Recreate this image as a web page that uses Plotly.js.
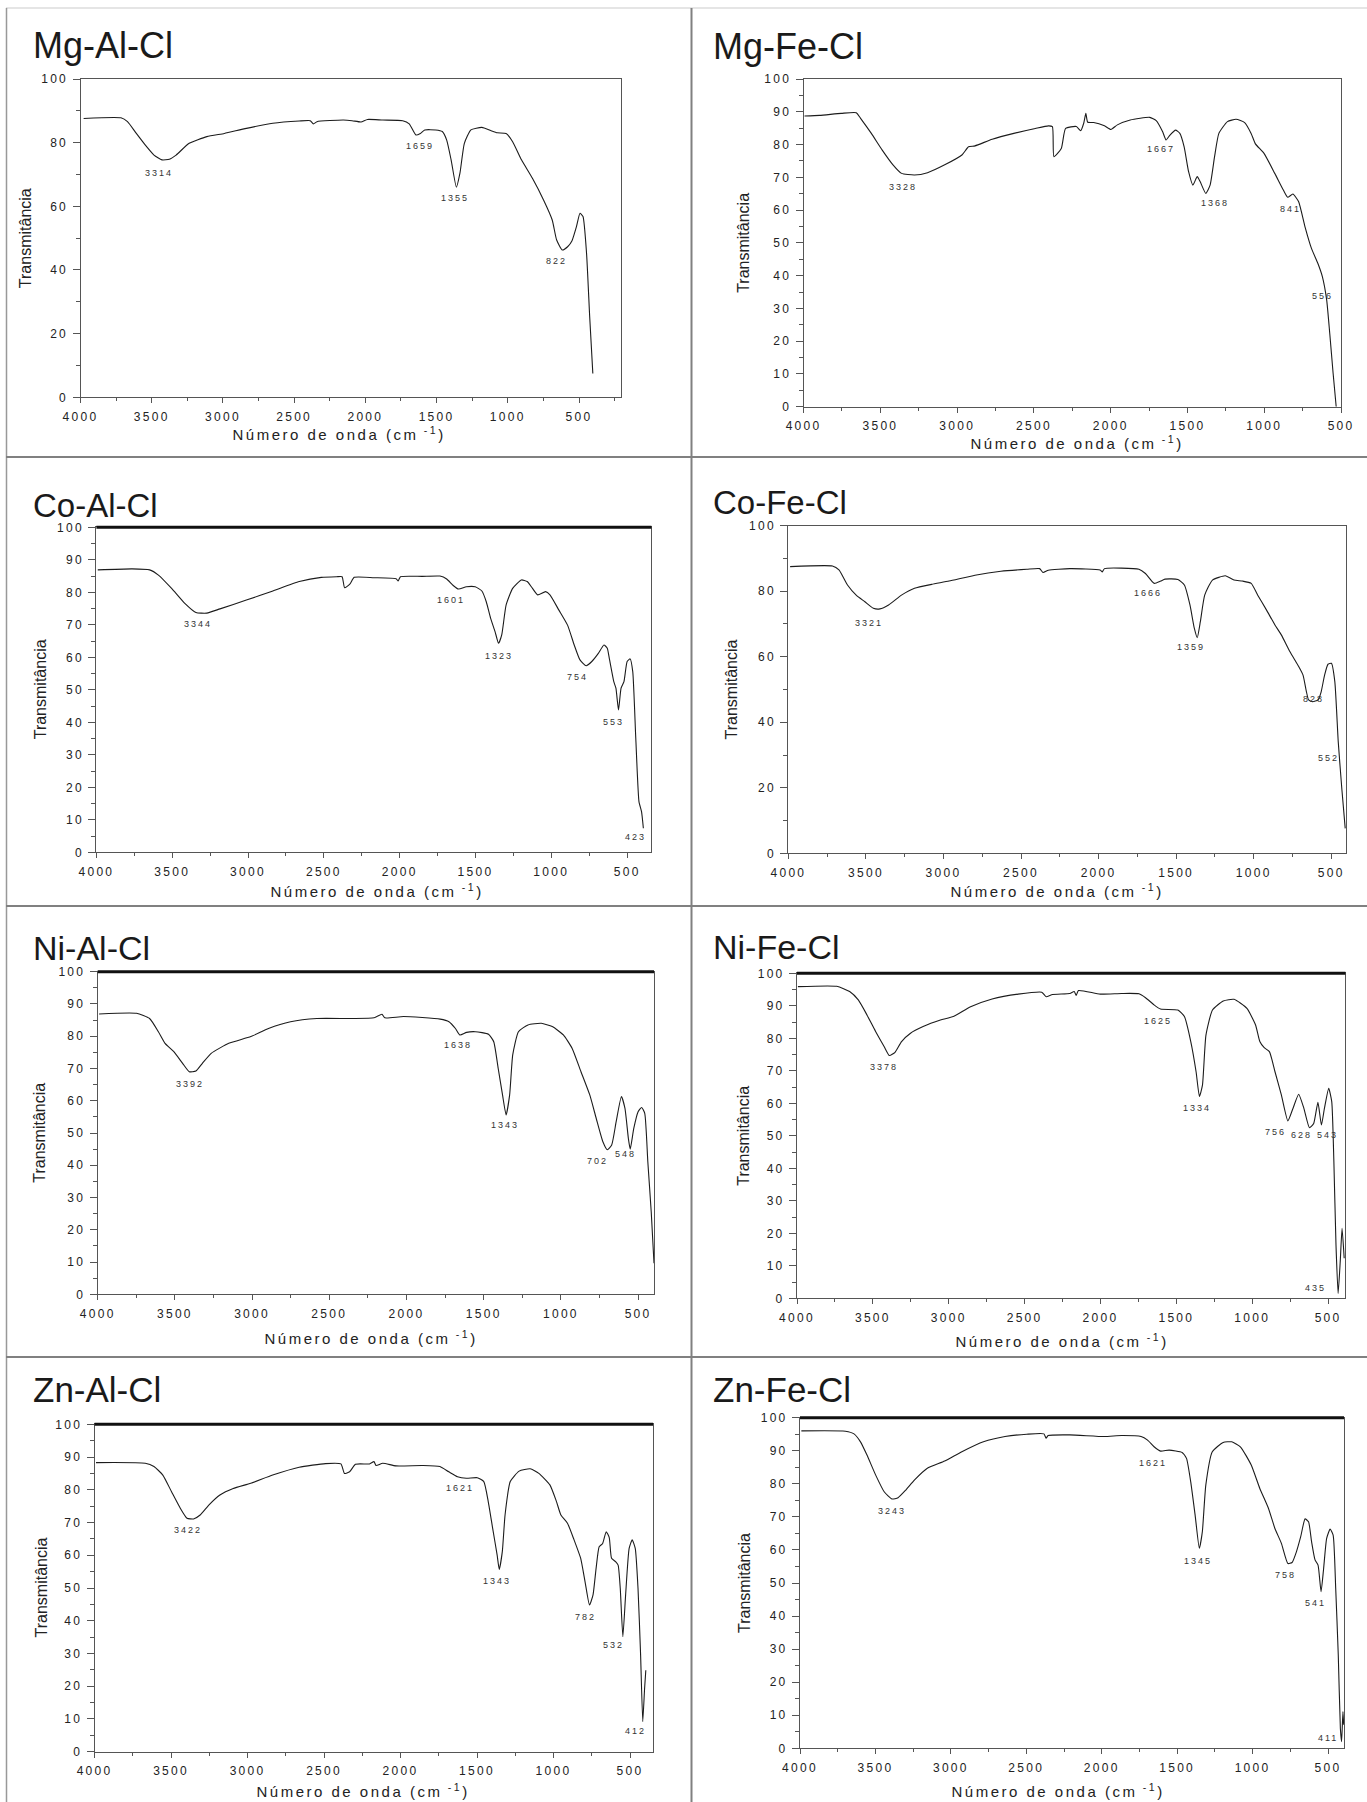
<!DOCTYPE html>
<html><head><meta charset="utf-8">
<script src="https://cdn.plot.ly/plotly-3.0.1.min.js"></script>
<style>
html,body{margin:0;padding:0;background:#fff;}
#chart{width:1367px;height:1802px;}
g[class$="tick"] text{letter-spacing:2.3px;}
</style></head><body><div id="chart"></div><script>
// ---------- DATA ----------
const panelTitles = ["Mg-Al-Cl","Mg-Fe-Cl","Co-Al-Cl","Co-Fe-Cl","Ni-Al-Cl","Ni-Fe-Cl","Zn-Al-Cl","Zn-Fe-Cl"];
const xTitle = "Número de onda (cm<sup> -1</sup>)";
const yTitle = "Transmitância";

const mgAlWn = [3978,3716,3670,3608,3546,3484,3428,3376,3329,3237,3113,2990,2835,2650,2464,2387,2365,2340,2155,2093,2031,1985,1877,1738,1692,1645,1614,1583,1506,1460,1429,1398,1361,1336,1305,1259,1182,1120,1073,1012,966,904,827,749,688,657,617,580,549,518,493,472,447,425,403];
const mgAlT  = [87.6,87.8,86.6,82.9,79.3,76.1,74.6,74.8,76.1,79.8,81.9,82.9,84.5,86.1,86.8,86.9,85.9,86.6,87.1,86.9,86.5,87.3,87.1,86.9,85.9,82.4,82.9,84.0,84.0,83.5,80.8,74.6,66.0,70.4,79.8,84.0,84.8,83.8,83.1,82.9,80.3,74.6,68.8,62.0,55.7,49.4,46.3,47.3,49.2,53.6,57.8,56.8,45.2,25.3,7.5];

const mgFeWn = [3994,3896,3755,3657,3629,3559,3488,3418,3362,3278,3193,3081,2969,2926,2884,2772,2631,2491,2406,2380,2370,2322,2294,2224,2196,2176,2162,2150,2111,2041,1999,1957,1873,1746,1704,1662,1640,1614,1578,1550,1522,1493,1465,1437,1418,1381,1353,1324,1296,1240,1184,1128,1086,1058,1002,932,876,848,814,777,735,693,651,622,594,574,552,532];
const mgFeT  = [88.7,88.9,89.5,89.7,88.0,83.4,78.3,73.8,71.2,70.7,71.4,73.8,76.8,79.3,79.6,81.6,83.4,84.9,85.7,85.5,76.3,78.8,84.9,85.5,84.2,86.5,89.5,86.8,86.7,85.7,84.6,86.0,87.5,88.3,87.3,83.9,81.4,82.9,84.4,83.4,79.3,71.7,67.6,70.2,68.7,65.1,67.6,76.3,83.4,87.0,87.7,86.7,83.4,80.2,77.3,71.2,66.1,63.9,64.9,62.6,54.9,48.3,43.7,39.7,32.6,22.4,10.2,0];

const coAlWn = [3991,3765,3649,3591,3504,3417,3344,3272,3185,3011,2836,2662,2517,2416,2380,2363,2329,2300,2169,2024,2010,1995,1850,1734,1690,1647,1612,1560,1502,1458,1429,1400,1371,1348,1327,1298,1255,1197,1159,1124,1090,1038,1009,951,893,849,811,770,733,690,653,631,617,588,574,557,540,521,500,480,463,443,422,405,393];
const coAlT  = [86.9,87.2,86.9,85.3,81.2,76.6,73.8,73.6,74.9,77.6,80.4,83.3,84.6,84.8,84.8,81.4,82.5,84.6,84.5,84.2,83.5,84.8,84.9,85.0,84.1,82.1,81.0,81.7,81.7,80.4,77.1,72.0,67.9,64.3,66.9,76.1,81.2,83.8,83.3,81.2,79.2,80.2,79.2,74.6,69.9,63.8,59.2,57.4,58.7,61.2,63.8,62.8,59.5,52.5,50.5,43.8,50.5,52.5,58.7,59.5,55.6,35.1,15.6,12.5,7.4];

const coFeWn = [3989,3716,3674,3619,3563,3507,3452,3410,3354,3271,3187,3076,2964,2797,2630,2463,2380,2358,2324,2185,1990,1976,1962,1740,1698,1642,1600,1572,1489,1447,1411,1383,1364,1344,1316,1266,1183,1127,1072,1016,974,918,863,821,766,710,682,660,646,621,585,566,543,521,499,477,455,432,410];
const coFeT  = [87.5,87.7,86.5,81.9,78.8,76.8,74.8,74.6,75.8,78.8,80.9,82.1,83.1,84.9,86.1,86.7,86.9,85.7,86.4,86.9,86.5,85.9,86.9,86.7,85.4,82.4,83.1,83.7,83.6,81.9,75.8,68.7,65.8,70.7,78.8,83.4,84.7,83.4,83.1,82.4,78.8,74.3,69.7,66.6,61.5,57.0,54.4,49.3,46.8,46.3,46.8,49.1,54.4,57.7,58.0,52.4,34.1,19.8,7.6];

const niAlWn = [3991,3749,3664,3607,3564,3507,3450,3407,3364,3322,3265,3151,3008,2894,2751,2580,2352,2210,2159,2140,2019,1782,1725,1683,1654,1611,1554,1469,1435,1406,1378,1355,1332,1312,1275,1213,1127,1056,984,927,870,813,771,728,699,671,642,608,585,563,551,528,500,477,457,437,415,397];
const niAlT  = [86.9,87.1,85.5,81.4,77.8,75.2,71.6,69.0,69.2,71.6,74.7,77.8,79.9,82.4,84.5,85.5,85.5,85.7,86.8,85.7,86.1,85.3,84.5,82.4,80.4,81.2,81.4,80.6,78.3,70.0,61.8,55.6,61.8,74.2,81.4,83.5,84.0,83.0,80.4,76.2,69.0,61.8,54.5,47.3,44.8,46.3,53.5,61.3,57.6,48.3,45.0,51.4,56.6,57.9,56.1,41.1,25.6,9.6];

const niFeWn = [3994,3738,3653,3596,3539,3482,3425,3391,3354,3311,3254,3169,3055,2970,2856,2714,2543,2387,2358,2316,2202,2173,2160,2145,2002,1860,1746,1703,1647,1604,1490,1447,1405,1370,1348,1328,1305,1262,1191,1120,1035,978,950,921,887,850,808,765,731,694,660,623,595,567,544,524,496,476,462,448,434,420,408,394];
const niFeT  = [95.9,96.0,94.4,91.8,87.2,82.1,77.4,74.7,75.7,79.0,81.5,83.6,85.6,86.7,89.7,92.1,93.6,94.2,92.8,93.5,93.8,94.4,93.2,94.7,93.6,93.8,93.7,92.5,90.3,89.0,88.7,86.7,79.0,69.7,62.1,65.6,81.0,88.7,91.5,92.0,89.2,84.1,79.0,77.1,75.9,69.7,62.6,54.6,58.5,62.8,58.5,52.5,53.8,60.3,53.3,58.5,64.6,60.5,42.1,16.4,1.5,11.3,21.5,12.3];

const znAlWn = [3991,3669,3612,3554,3497,3439,3396,3353,3310,3252,3181,3094,2979,2836,2663,2491,2390,2367,2333,2295,2203,2174,2160,2117,2030,1858,1743,1685,1628,1570,1499,1456,1427,1398,1369,1355,1335,1317,1283,1225,1153,1096,1024,981,952,909,866,823,794,765,742,722,702,679,656,636,621,593,578,564,547,529,506,486,466,448,431,417,405,397];
const znAlT  = [88.3,88.1,87.1,84.5,79.4,74.3,71.3,71.1,72.3,75.4,78.4,80.4,82.0,84.5,86.9,88.0,87.9,85.0,85.5,87.8,87.9,88.6,87.4,88.1,87.3,87.4,87.1,85.5,84.0,83.5,83.7,82.5,76.4,68.2,60.1,55.7,61.1,72.3,82.5,85.7,86.4,85.0,81.5,76.4,72.3,69.8,64.7,59.1,51.9,44.8,47.9,56.0,62.6,63.6,67.2,65.4,59.1,58.0,57.0,49.9,35.1,47.9,62.1,64.7,62.1,49.9,29.5,9.2,19.3,24.9];

const znFeWn = [3991,3699,3642,3599,3556,3499,3442,3390,3350,3299,3242,3156,3041,2927,2784,2641,2497,2383,2369,2355,2211,1982,1868,1739,1696,1653,1610,1553,1467,1438,1410,1381,1353,1333,1310,1267,1195,1138,1081,1009,952,895,852,809,766,738,709,681,652,629,609,586,566,546,529,509,486,466,449,432,418,410,401,396];
const znFeT  = [96.0,95.9,95.1,92.7,88.7,82.7,77.6,75.4,75.8,78.1,81.1,84.7,86.9,89.7,92.7,94.3,95.0,95.1,93.8,94.6,94.8,94.3,94.6,94.3,93.2,91.2,89.9,90.2,89.5,87.7,80.6,70.6,60.5,65.5,79.6,89.7,92.5,92.7,91.2,85.7,78.6,72.6,66.5,62.0,55.9,56.2,59.5,64.0,69.4,68.5,62.5,57.0,55.4,47.4,54.4,63.5,66.3,64.5,48.4,28.2,6.0,2.0,11.1,7.1];

// peak labels: text, wavenumber position, transmittance position
const mgAlPk = ["3314","1659","1355","822"];           const mgAlPkX = [3447,1614,1373,656];            const mgAlPkY = [70.4,79.1,62.5,42.9];
const mgFePk = ["3328","1667","1368","841","556"];     const mgFePkX = [3351,1676,1324,827,622];        const mgFePkY = [67.1,78.5,62.1,60.2,33.8];
const coAlPk = ["3344","1601","1323","754","553","423"]; const coAlPkX = [3330,1661,1342,825,593,443]; const coAlPkY = [70.2,77.5,60.5,53.9,40.2,4.8];
const coFePk = ["3321","1666","1359","828","552"];     const coFePkX = [3479,1684,1406,612,521];        const coFePkY = [70.4,79.4,62.9,47.2,29.0];
const niAlPk = ["3392","1638","1343","702","548"];     const niAlPkX = [3401,1668,1360,765,584];        const niAlPkY = [65.3,77.3,52.5,41.4,43.4];
const niFePk = ["3378","1625","1334","756","628","543","435"]; const niFePkX = [3425,1624,1362,844,676,505,580]; const niFePkY = [71.3,85.4,58.5,51.1,50.1,50.1,3.3];
const znAlPk = ["3422","1621","1343","782","532","412"]; const znAlPkX = [3388,1614,1369,794,607,463]; const znAlPkY = [67.7,80.4,52.2,41.1,32.6,6.3];
const znFePk = ["3243","1621","1345","758","541","411"]; const znFePkX = [3390,1659,1361,780,586,498]; const znFePkY = [71.8,86.2,56.8,52.4,43.9,3.0];

const series = [
  [mgAlWn,mgAlT,mgAlPk,mgAlPkX,mgAlPkY],
  [mgFeWn,mgFeT,mgFePk,mgFePkX,mgFePkY],
  [coAlWn,coAlT,coAlPk,coAlPkX,coAlPkY],
  [coFeWn,coFeT,coFePk,coFePkX,coFePkY],
  [niAlWn,niAlT,niAlPk,niAlPkX,niAlPkY],
  [niFeWn,niFeT,niFePk,niFePkX,niFePkY],
  [znAlWn,znAlT,znAlPk,znAlPkX,znAlPkY],
  [znFeWn,znFeT,znFePk,znFePkX,znFePkY]
];

// ---------- LAYOUT GEOMETRY (pixels) ----------
const W = 1367, H = 1802;
const geom = [
 {L:80.5,R:620.6,T:79,B:397.3,   xr:[4000,208], ydt:20, thick:false, tx:30.8,  ty:46,   tf:36, ytx:25,   xtx:339,  xty:433},
 {L:803.6,R:1341.1,T:79,B:406.7, xr:[4000,500], ydt:10, thick:false, tx:710.7, ty:46.5, tf:36, ytx:744,  xtx:1077, xty:443},
 {L:96.4,R:651.4,T:527.3,B:852.3,xr:[4000,340], ydt:10, thick:true,  tx:30.8,  ty:505,  tf:33, ytx:40.5, xtx:377,  xty:891},
 {L:788.4,R:1346.3,T:525.7,B:853.3,xr:[4000,403],ydt:20, thick:false, tx:710.7, ty:502.5, tf:33, ytx:731,  xtx:1057, xty:891},
 {L:97.7,R:654,T:971.7,B:1294.3, xr:[4000,397], ydt:10, thick:true,  tx:30.8,  ty:948,  tf:34, ytx:38.7, xtx:371,  xty:1337},
 {L:797,R:1345.4,T:973.3,B:1298.3,xr:[4000,386],ydt:10, thick:true,  tx:710.7, ty:947,  tf:34, ytx:744,  xtx:1062, xty:1340},
 {L:94.6,R:653,T:1424.3,B:1751.7,xr:[4000,350], ydt:10, thick:true,  tx:30.8,  ty:1389, tf:35, ytx:40.5, xtx:363,  xty:1790},
 {L:800,R:1344,T:1417.7,B:1748.3,xr:[4000,394], ydt:10, thick:true,  tx:710.7, ty:1389, tf:35, ytx:744,  xtx:1058, xty:1790}
];

const FONT = "Liberation Sans, Arial, Helvetica, sans-serif";
const px = v => v / W, py = v => 1 - v / H;

const traces = [], annotations = [], shapes = [];
const layout = {
  width: W, height: H, margin: {l:0,r:0,t:0,b:0},
  paper_bgcolor: '#fff', plot_bgcolor: '#fff', showlegend: false,
  font: {family: FONT, color: '#222'}
};

geom.forEach((g, i) => {
  const n = i === 0 ? '' : String(i + 1);
  const [wn, t, pk, pkx, pky] = series[i];
  traces.push({
    type: 'scatter', mode: 'lines', x: wn, y: t,
    xaxis: 'x' + n, yaxis: 'y' + n,
    line: {color: '#1c1c1c', width: 1.1, shape: 'spline', smoothing: 0.5},
    hoverinfo: 'skip'
  });
  layout['xaxis' + n] = {
    domain: [px(g.L), px(g.R)], range: g.xr, anchor: 'y' + n,
    showgrid: false, zeroline: false, showline: true, mirror: true,
    linecolor: '#555', linewidth: 1,
    ticks: 'outside', ticklen: 5, tickcolor: '#555', tick0: 0, dtick: 500,
    ticklabelstandoff: 3,
    tickfont: {size: 12, color: '#222', family: FONT},
    minor: {ticks: 'outside', ticklen: 3, dtick: 250, tick0: 0, tickcolor: '#555', showgrid: false}
  };
  layout['yaxis' + n] = {
    domain: [py(g.B), py(g.T)], range: [0, 100], anchor: 'x' + n,
    showgrid: false, zeroline: false, showline: true, mirror: true,
    linecolor: '#555', linewidth: 1,
    ticks: 'outside', ticklen: 7, tickcolor: '#555', tick0: 0, dtick: g.ydt,
    ticklabelstandoff: 2,
    tickfont: {size: 12, color: '#222', family: FONT},
    minor: {ticks: 'outside', ticklen: 4, dtick: g.ydt / 2, tick0: 0, tickcolor: '#555', showgrid: false}
  };
  // panel title
  annotations.push({xref:'paper', yref:'paper', x: px(g.tx), y: py(g.ty), xanchor:'left', yanchor:'middle',
    text: panelTitles[i], showarrow:false, font:{size:g.tf, color:'#1a1a1a', family: FONT}});
  // axis titles
  annotations.push({xref:'paper', yref:'paper', x: px(g.ytx), y: py((g.T + g.B) / 2), xanchor:'center', yanchor:'middle',
    text: yTitle, textangle: -90, showarrow:false, font:{size:16, color:'#222', family: FONT}});
  annotations.push({xref:'paper', yref:'paper', x: px(g.xtx), y: py(g.xty), xanchor:'center', yanchor:'middle',
    text: xTitle, showarrow:false, font:{size:15, color:'#222', family: FONT}});
  // peak labels
  pk.forEach((lbl, k) => {
    annotations.push({xref:'x' + n, yref:'y' + n, x: pkx[k], y: pky[k], text: lbl, showarrow:false,
      xanchor:'center', yanchor:'middle', font:{size:9, color:'#333', family: FONT}});
  });
  if (g.thick) {
    shapes.push({type:'line', xref:'x' + n + ' domain', yref:'y' + n + ' domain', x0:0, x1:1, y0:1, y1:1,
      line:{color:'#111', width:3}});
  }
});

// panel separators
shapes.push({type:'line', xref:'paper', yref:'paper', x0:px(6), x1:1, y0:py(8), y1:py(8), line:{color:'#dcdcdc', width:1.5}});
shapes.push({type:'line', xref:'paper', yref:'paper', x0:px(6.5), x1:px(6.5), y0:py(8), y1:0, line:{color:'#999', width:1.5}});
shapes.push({type:'line', xref:'paper', yref:'paper', x0:px(691.5), x1:px(691.5), y0:py(8), y1:0, line:{color:'#808080', width:2}});
[457, 906, 1357].forEach(yy => {
  shapes.push({type:'line', xref:'paper', yref:'paper', x0:px(6), x1:1, y0:py(yy), y1:py(yy), line:{color:'#808080', width:2}});
});

layout.annotations = annotations;
layout.shapes = shapes;

const gd = document.getElementById('chart');
Plotly.newPlot(gd, traces, layout, {staticPlot: true, displayModeBar: false}).then(() => {
  gd.querySelectorAll('.annotation-text').forEach(t => {
    const s = t.textContent;
    if (/^\d+$/.test(s)) t.style.letterSpacing = '2px';
    else if (s.indexOf('Número') === 0) t.style.letterSpacing = '2.5px';
  });
});
</script></body></html>
